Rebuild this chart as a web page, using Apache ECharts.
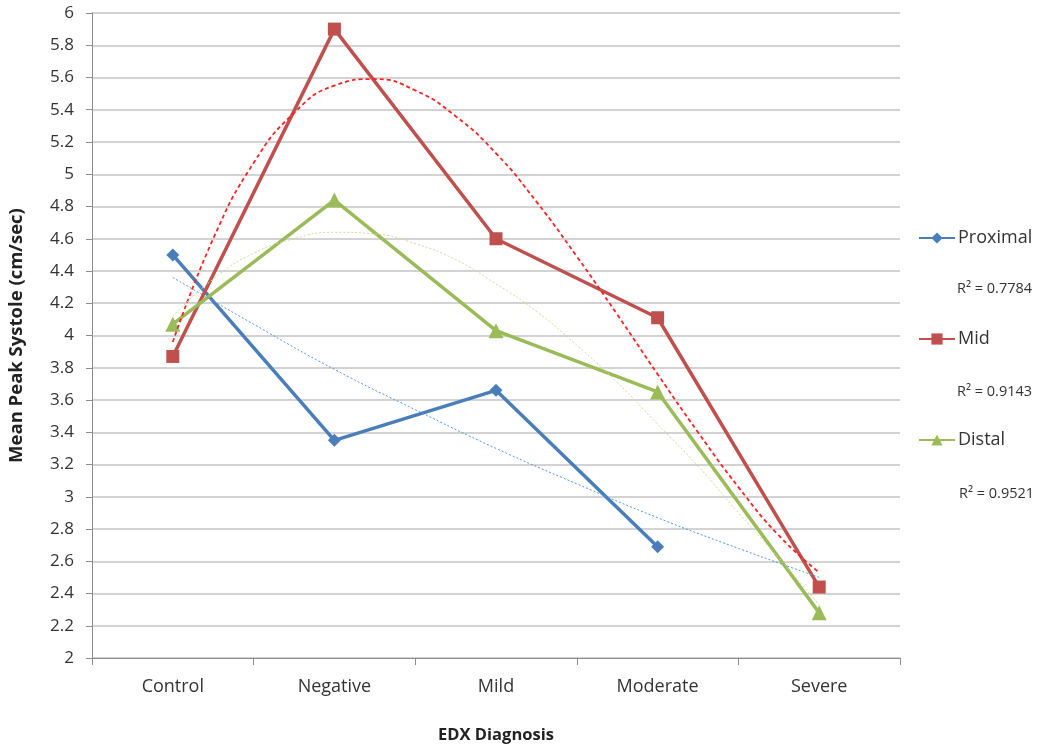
<!DOCTYPE html>
<html><head><meta charset="utf-8">
<script src="https://cdn.jsdelivr.net/npm/echarts@6/dist/echarts.min.js"></script>
<style>html,body{margin:0;padding:0;background:#fff}#c{width:1050px;height:750px}</style>
</head><body><div id="c"></div>
<script>
var categories = ['Control', 'Negative', 'Mild', 'Moderate', 'Severe'];
var proximal = [4.50, 3.35, 3.66, 2.69, null];
var mid = [3.87, 5.90, 4.60, 4.11, 2.44];
var distal = [4.07, 4.84, 4.03, 3.65, 2.28];
// trend lines: [category position, value]
var proximalTrend = [[1,4.36],[1.5,4.07],[2,3.79],[2.5,3.54],[3,3.30],[3.5,3.08],[4,2.87],[4.5,2.68],[5,2.50]];
var midTrend = [[1,3.96],[1.25,4.60],[1.5,5.07],[1.75,5.38],[2,5.55],[2.25,5.59],[2.5,5.52],[2.75,5.36],[3,5.13],[3.25,4.83],[3.5,4.49],[3.75,4.13],[4,3.76],[4.25,3.40],[4.5,3.06],[4.75,2.76],[5,2.53]];
var distalTrend = [[1,4.12],[1.25,4.35],[1.5,4.51],[1.75,4.60],[2,4.64],[2.25,4.63],[2.5,4.57],[2.75,4.47],[3,4.32],[3.25,4.15],[3.5,3.94],[3.75,3.71],[4,3.45],[4.25,3.19],[4.5,2.90],[4.75,2.62],[5,2.33]];
var r2Labels = ['R² = 0.7784', 'R² = 0.9143', 'R² = 0.9521'];
var seriesNames = ['Proximal', 'Mid', 'Distal'];

var FONT = 'Open Sans';
var chart = echarts.init(document.getElementById('c'), null, {renderer: 'canvas'});
chart.setOption({
  animation: false,
  backgroundColor: '#fff',
  textStyle: {fontFamily: FONT},
  grid: {left: 92, right: 150, top: 13, bottom: 92, outerBoundsMode: 'none'},
  legend: {
    data: seriesNames,
    orient: 'vertical',
    left: 913, top: 224,
    itemGap: 83,
    itemWidth: 36, itemHeight: 14,
    textStyle: {fontFamily: FONT, fontSize: 18, color: '#333', padding: [0, 0, 0, -2]}
  },
  graphic: [
    {type: 'text', left: 957, top: 281, style: {text: r2Labels[0], font: '14.5px "Open Sans"', fill: '#333'}},
    {type: 'text', left: 957, top: 384, style: {text: r2Labels[1], font: '14.5px "Open Sans"', fill: '#333'}},
    {type: 'text', left: 959, top: 486, style: {text: r2Labels[2], font: '14.5px "Open Sans"', fill: '#333'}}
  ],
  xAxis: [{
    type: 'category', data: categories, boundaryGap: true,
    name: 'EDX Diagnosis', nameLocation: 'middle', nameGap: 69,
    nameTextStyle: {fontFamily: FONT, fontSize: 16.5, fontWeight: 'bold', color: '#222'},
    axisLine: {lineStyle: {color: '#8c8c8c', width: 1}},
    axisTick: {show: true, alignWithLabel: false, length: 7, lineStyle: {color: '#8c8c8c'}},
    axisLabel: {fontFamily: FONT, fontSize: 18, color: '#333', margin: 20},
    splitLine: {show: false}
  }, {
    type: 'value', min: 0.5, max: 5.5, show: false
  }],
  yAxis: {
    type: 'value', min: 2, max: 6, interval: 0.2,
    name: 'Mean Peak Systole (cm/sec)', nameLocation: 'middle', nameGap: 66,
    nameTextStyle: {fontFamily: FONT, fontSize: 18.5, fontWeight: 'bold', color: '#222'},
    axisLine: {show: true, lineStyle: {color: '#8c8c8c', width: 1}},
    axisTick: {show: true, length: 6, lineStyle: {color: '#8c8c8c'}},
    axisLabel: {fontFamily: FONT, fontSize: 17, color: '#333', margin: 18},
    splitLine: {lineStyle: {color: '#c4c4c4', width: 1.5}}
  },
  series: [
    {name: seriesNames[0], type: 'line', data: proximal, symbol: 'diamond', symbolSize: 13,
     itemStyle: {color: '#4A7EBB'}, lineStyle: {color: '#4A7EBB', width: 3.5}, z: 3},
    {name: seriesNames[1], type: 'line', data: mid, symbol: 'rect', symbolSize: 13,
     itemStyle: {color: '#C0504D'}, lineStyle: {color: '#C0504D', width: 3.5}, z: 3},
    {name: seriesNames[2], type: 'line', data: distal, symbol: 'triangle', symbolSize: 15,
     itemStyle: {color: '#9BBB59'}, lineStyle: {color: '#9BBB59', width: 3.5}, z: 3},
    {name: 'pt', type: 'line', xAxisIndex: 1, data: proximalTrend, smooth: true, showSymbol: false,
     lineStyle: {color: '#4F9BE0', width: 1, type: [2, 2]}, z: 4},
    {name: 'mt', type: 'line', xAxisIndex: 1, data: midTrend, smooth: true, showSymbol: false,
     lineStyle: {color: '#FF2020', width: 1.8, type: [4, 3]}, z: 4},
    {name: 'dt', type: 'line', xAxisIndex: 1, data: distalTrend, smooth: true, showSymbol: false,
     lineStyle: {color: '#C9DE9A', width: 1, type: [2, 2]}, z: 4}
  ]
});
</script></body></html>
